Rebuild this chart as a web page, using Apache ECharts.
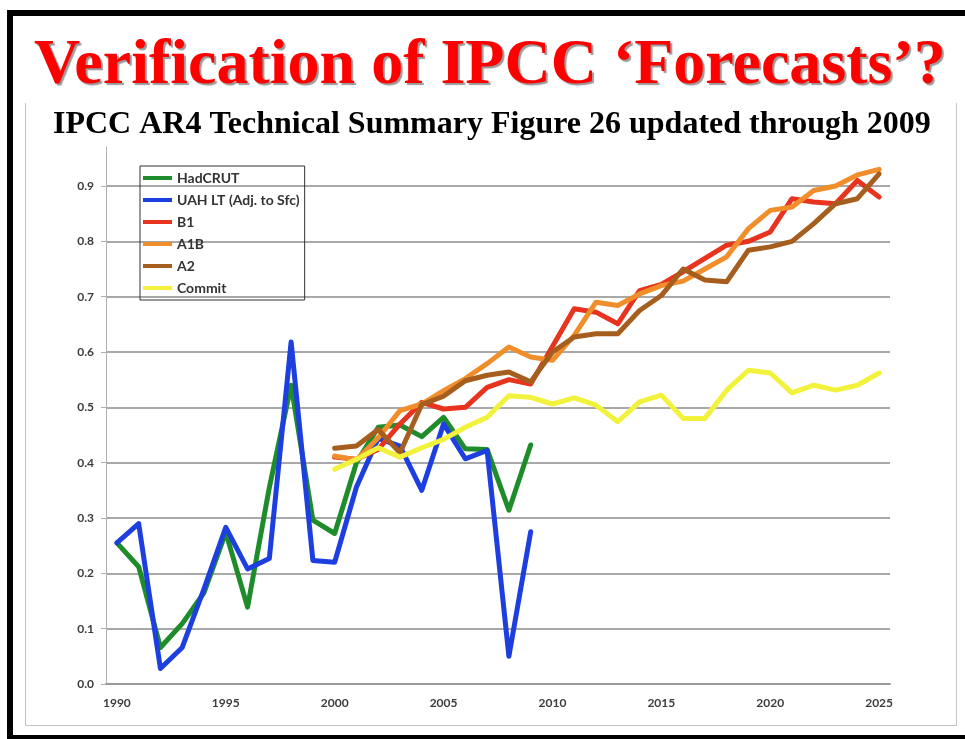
<!DOCTYPE html>
<html>
<head>
<meta charset="utf-8">
<script src="https://cdn.jsdelivr.net/npm/echarts@6/dist/echarts.min.js"></script>
<style>
  html, body { margin: 0; padding: 0; background: #fff; overflow: hidden; }
  .bar { position: absolute; background: #000; }
  .gray { position: absolute; background: #c4c4c4; }
  #main { position: absolute; left: 0; top: 0; width: 965px; height: 739px; }
</style>
</head>
<body>
<div class="bar" style="left:7px;top:10px;width:958px;height:6px"></div>
<div class="bar" style="left:7px;top:10px;width:6px;height:729px"></div>
<div class="bar" style="left:7px;top:735px;width:958px;height:4px"></div>
<div class="gray" style="left:25px;top:103px;width:1px;height:622px"></div>
<div class="gray" style="left:956px;top:103px;width:1px;height:622px"></div>
<div class="gray" style="left:25px;top:725px;width:932px;height:1px"></div>
<div id="main"></div>
<script>
// years on the category axis
var years = [];
for (var y = 1990; y <= 2025; y++) years.push(String(y));

// observed, 1990-2009
var hadcrut = [0.255, 0.212, 0.066, 0.109, 0.165, 0.274, 0.139, 0.355, 0.54, 0.296,
               0.272, 0.40, 0.464, 0.468, 0.447, 0.482, 0.425, 0.424, 0.314, 0.432];
var uah = [0.255, 0.29, 0.028, 0.066, 0.172, 0.283, 0.208, 0.227, 0.618, 0.223,
           0.22, 0.356, 0.444, 0.43, 0.35, 0.47, 0.407, 0.422, 0.05, 0.275];

// projections, 2000-2025
var b1 = [0.41, 0.406, 0.424, 0.47, 0.509, 0.497, 0.5, 0.536, 0.55, 0.542,
          0.61, 0.678, 0.672, 0.651, 0.711, 0.722, 0.745, 0.769, 0.793, 0.8,
          0.817, 0.877, 0.871, 0.868, 0.91, 0.88];
var a1b = [0.412, 0.405, 0.445, 0.494, 0.506, 0.53, 0.552, 0.579, 0.609, 0.591,
           0.585, 0.63, 0.69, 0.684, 0.705, 0.72, 0.728, 0.75, 0.772, 0.823,
           0.856, 0.862, 0.892, 0.9, 0.92, 0.93];
var a2 = [0.426, 0.43, 0.46, 0.418, 0.505, 0.52, 0.548, 0.558, 0.564, 0.546,
          0.6, 0.627, 0.633, 0.633, 0.675, 0.702, 0.75, 0.73, 0.727, 0.784,
          0.79, 0.80, 0.832, 0.868, 0.877, 0.922];
var commit = [0.388, 0.406, 0.427, 0.41, 0.427, 0.442, 0.464, 0.482, 0.521, 0.518,
              0.506, 0.517, 0.504, 0.474, 0.51, 0.522, 0.48, 0.48, 0.531, 0.567,
              0.562, 0.526, 0.54, 0.531, 0.54, 0.562];

var yTicks = ['0.0', '0.1', '0.2', '0.3', '0.4', '0.5', '0.6', '0.7', '0.8', '0.9'];

function pad(arr, startYear) {
    var out = [];
    for (var i = 0; i < years.length; i++) {
        var k = i - (startYear - 1990);
        out.push(k >= 0 && k < arr.length ? arr[k] : null);
    }
    return out;
}

function mkSeries(name, data, start, color) {
    return {
        name: name, type: 'line', data: pad(data, start),
        xAxisIndex: 0, yAxisIndex: 0,
        symbol: 'none', smooth: false, connectNulls: false, clip: false,
        lineStyle: { color: color, width: 5, join: 'round', cap: 'round' },
        itemStyle: { color: color },
        animation: false
    };
}

var lblFont = { fontFamily: 'Lato', fontWeight: 'bold', fontSize: 12, color: '#3c3c3c' };

var chart = echarts.init(document.getElementById('main'));
var option = {
    animation: false,
    title: [{
        text: 'Verification of IPCC \u2018Forecasts\u2019?',
        left: 34, top: 34, padding: 0,
        textStyle: {
            fontFamily: 'Liberation Serif', fontWeight: 'bold', fontSize: 64, color: '#ff0000',
            textShadowColor: '#9a9a9a', textShadowOffsetX: 2, textShadowOffsetY: 2, textShadowBlur: 1
        }
    }, {
        text: 'IPCC AR4 Technical Summary Figure 26 updated through 2009',
        left: 53, top: 109, padding: 0,
        textStyle: { fontFamily: 'Liberation Serif', fontWeight: 'bold', fontSize: 32, color: '#000' }
    }],
    legend: {
        orient: 'vertical', left: 140, top: 166,
        padding: [5, 5, 5, 3],
        borderColor: '#333', borderWidth: 1,
        itemWidth: 29, itemHeight: 4, itemGap: 8, icon: 'rect',
        textStyle: { fontFamily: 'Lato', fontWeight: 'bold', fontSize: 14, color: '#333' },
        data: ['HadCRUT', 'UAH LT (Adj. to Sfc)', 'B1', 'A1B', 'A2', 'Commit']
    },
    grid: [
        { left: 106, right: 75, top: 186, bottom: 55 },
        { left: 106, right: 75, top: 147, bottom: 55 }
    ],
    xAxis: [{
        type: 'category', data: years, boundaryGap: true, gridIndex: 0,
        axisLine: { lineStyle: { color: '#999', width: 2 } },
        axisTick: { interval: 0, length: 5, lineStyle: { color: '#999', width: 1 } },
        axisLabel: Object.assign({ interval: 4, margin: 13 }, lblFont),
        splitLine: { show: false }
    }, {
        type: 'value', gridIndex: 1, show: false
    }],
    yAxis: [{
        type: 'value', min: 0, max: 0.9, interval: 0.1, gridIndex: 0,
        axisLine: { show: true, lineStyle: { color: '#b0b0b0', width: 1 } },
        axisTick: { show: true, length: 5, lineStyle: { color: '#b0b0b0' } },
        axisLabel: Object.assign({
            margin: 12,
            formatter: function (v) { return yTicks[Math.round(v * 10)]; }
        }, lblFont),
        splitLine: { lineStyle: { color: '#a8a8a8', width: 2 } }
    }, {
        type: 'value', min: 0, max: 1, gridIndex: 1,
        axisLine: { show: true, lineStyle: { color: '#b0b0b0', width: 1 } },
        axisTick: { show: false }, axisLabel: { show: false }, splitLine: { show: false }
    }],
    series: [
        mkSeries('HadCRUT', hadcrut, 1990, '#1e8c2a'),
        mkSeries('UAH LT (Adj. to Sfc)', uah, 1990, '#1d3fe0'),
        mkSeries('B1', b1, 2000, '#e8341e'),
        mkSeries('A1B', a1b, 2000, '#f08e2c'),
        mkSeries('A2', a2, 2000, '#a65e1e'),
        mkSeries('Commit', commit, 2000, '#f2f23c')
    ]
};
chart.setOption(option);
</script>
</body>
</html>
